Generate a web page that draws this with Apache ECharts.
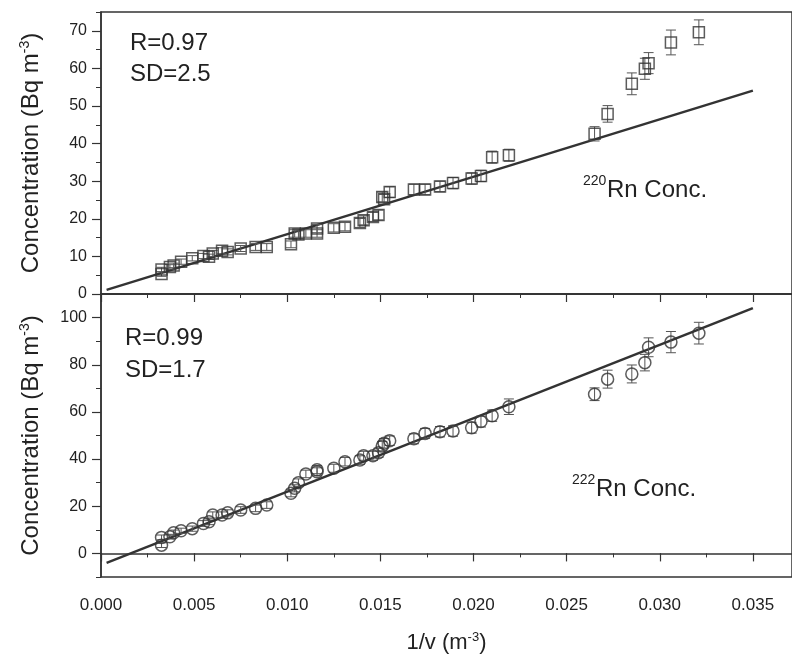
<!DOCTYPE html>
<html>
<head>
<meta charset="utf-8">
<script src="https://cdn.jsdelivr.net/npm/echarts@6/dist/echarts.min.js"></script>
<style>html,body{margin:0;padding:0;background:#fff}#c{width:792px;height:657px}</style>
</head>
<body>
<div id="c"></div>
<script>
// ---- data ----
const xValues = [0.00325,0.00325,0.0037,0.0039,0.0043,0.0049,0.0055,0.0058,0.0060,0.0065,0.0068,0.0075,0.0083,0.0089,
  0.0102,0.0104,0.0106,0.0110,0.0116,0.0116,0.0125,0.0131,0.0139,0.0141,0.0146,0.0149,0.0151,0.0152,0.0155,
  0.0168,0.0174,0.0182,0.0189,0.0199,0.0204,0.0210,0.0219,0.0265,0.0272,0.0285,0.0292,0.0294,0.0306,0.0321];
const rn220 = [5.3,6.5,7.2,7.6,8.6,9.5,10.1,9.9,10.8,11.5,11.2,12.1,12.5,12.5,
  13.2,16.1,15.8,16.1,16.1,17.4,17.6,17.9,18.9,19.6,20.5,21.0,25.8,25.2,27.1,
  27.8,27.8,28.6,29.5,30.7,31.4,36.4,36.9,42.6,47.9,55.9,59.9,61.4,66.9,69.6];
const rn220Err = [0.6,0.6,0.6,0.6,0.7,0.7,0.7,0.7,0.8,0.8,0.8,0.8,0.9,0.9,
  0.9,1.0,1.0,1.0,1.0,1.1,1.1,1.1,1.2,1.2,1.2,1.3,1.3,1.3,1.4,
  1.4,1.4,1.4,1.5,1.5,1.5,1.6,1.6,1.9,2.2,2.9,2.8,2.8,3.3,3.3];
const rn222 = [3.5,6.8,7.1,8.8,9.6,10.5,12.7,13.4,16.3,16.3,17.2,18.4,19.1,20.5,
  25.5,27.6,30.0,33.7,34.6,35.5,36.1,38.9,39.6,41.4,41.4,42.7,45.5,46.7,47.8,
  48.6,50.9,51.6,51.9,53.3,55.9,58.4,62.2,67.5,73.9,76.1,80.9,87.4,89.6,93.4];
const rn222Err = [1.0,1.0,1.0,1.1,1.1,1.1,1.2,1.2,1.3,1.3,1.3,1.4,1.4,1.4,
  1.5,1.5,1.6,1.6,1.7,1.7,1.7,1.8,1.8,1.9,1.9,1.9,2.0,2.0,2.0,
  2.1,2.1,2.2,2.2,2.3,2.3,2.4,3.3,2.7,3.8,3.8,3.5,4.0,4.5,4.6];
const fit220 = [[0.0003, 1.1], [0.035, 54.1]];
const fit222 = [[0.0003, -4.0], [0.035, 104.0]];
const xTicks = [0, 0.005, 0.010, 0.015, 0.020, 0.025, 0.030, 0.035];
const yTicksTop = [0, 10, 20, 30, 40, 50, 60, 70];
const yTicksBottom = [0, 20, 40, 60, 80, 100];

// ---- chart ----
const ink = '#222';
const X_MAX = 0.0371;
const axisLineStyle = {lineStyle: {color: '#333', width: 1.5}};
const pts = (ys) => xValues.map((x, i) => [x, ys[i]]);
const errs = (ys, es) => xValues.map((x, i) => [x, ys[i] - es[i], ys[i] + es[i]]);

function errorBar(params, api) {
  const x = api.value(0);
  const top = api.coord([x, api.value(2)]);
  const bot = api.coord([x, api.value(1)]);
  const w = 5;
  const st = {stroke: '#555', lineWidth: 1};
  return {type: 'group', children: [
    {type: 'line', shape: {x1: top[0], y1: top[1], x2: bot[0], y2: bot[1]}, style: st},
    {type: 'line', shape: {x1: top[0] - w, y1: top[1], x2: top[0] + w, y2: top[1]}, style: st},
    {type: 'line', shape: {x1: bot[0] - w, y1: bot[1], x2: bot[0] + w, y2: bot[1]}, style: st}
  ]};
}

const nameRich = {
  t: {fontSize: 24, fontFamily: 'Liberation Sans, Arial', color: ink},
  s: {fontSize: 14, fontFamily: 'Liberation Sans, Arial', color: ink, padding: [0, 0, 12, 0]}
};

function mainX(gridIndex, showLabels) {
  return {
    type: 'value', gridIndex, min: 0, max: X_MAX, position: 'bottom',
    axisLine: axisLineStyle, splitLine: {show: false},
    axisTick: {show: true, length: 8, customValues: xTicks, lineStyle: {color: '#333', width: 1.2}},
    axisLabel: showLabels ? {show: true, customValues: xTicks, formatter: v => v.toFixed(3), fontSize: 17,
      fontFamily: 'Liberation Sans Narrow, Liberation Sans, Arial', color: ink, margin: 20} : {show: false},
    name: showLabels ? '{t|1/v (m}{s|-3}{t|)}' : '',
    nameLocation: 'middle', nameGap: 54,
    nameTextStyle: {rich: {
      t: {fontSize: 22, fontFamily: 'Liberation Sans, Arial', color: ink},
      s: {fontSize: 13, fontFamily: 'Liberation Sans, Arial', color: ink, padding: [0, 0, 11, 0]}
    }}
  };
}
function minorX(gridIndex) {
  return {
    type: 'value', gridIndex, min: 0, max: X_MAX, interval: 0.0025, position: 'bottom',
    axisLine: {show: false}, splitLine: {show: false}, axisLabel: {show: false},
    axisTick: {show: true, length: 4, lineStyle: {color: '#333', width: 1}}
  };
}
function mainY(gridIndex, min, max, ticks) {
  return {
    type: 'value', gridIndex, min, max, position: 'left',
    axisLine: axisLineStyle, splitLine: {show: false},
    axisTick: {show: true, length: 9, customValues: ticks, lineStyle: {color: '#333', width: 1.2}},
    axisLabel: {show: true, customValues: ticks, fontSize: 16, fontFamily: 'Liberation Sans, Arial', color: ink, margin: 14},
    name: '{t|Concentration (Bq m}{s|-3}{t|)}',
    nameLocation: 'middle', nameRotate: 90, nameGap: 57,
    nameTextStyle: {rich: nameRich}
  };
}
function minorY(gridIndex, min, max, interval) {
  return {
    type: 'value', gridIndex, min, max, interval, position: 'left',
    axisLine: {show: false}, splitLine: {show: false}, axisLabel: {show: false},
    axisTick: {show: true, length: 5, lineStyle: {color: '#333', width: 1}}
  };
}

const chart = echarts.init(document.getElementById('c'), null, {renderer: 'canvas'});
chart.setOption({
  animation: false,
  backgroundColor: '#fff',
  grid: [
    {left: 101, top: 12, width: 693, height: 282, show: true, borderColor: '#333', borderWidth: 1.5},
    {left: 101, top: 294, width: 693, height: 283, show: true, borderColor: '#333', borderWidth: 1.5}
  ],
  xAxis: [mainX(0, false), minorX(0), mainX(1, true), minorX(1)],
  yAxis: [mainY(0, 0, 75, yTicksTop), minorY(0, 0, 75, 5), mainY(1, -10, 110, yTicksBottom), minorY(1, -10, 110, 10)],
  series: [
    {type: 'line', xAxisIndex: 0, yAxisIndex: 0, data: fit220, showSymbol: false, symbol: 'none',
      lineStyle: {color: '#333', width: 2.5}, z: 3},
    {type: 'custom', xAxisIndex: 0, yAxisIndex: 0, data: errs(rn220, rn220Err), renderItem: errorBar, z: 4},
    {type: 'scatter', xAxisIndex: 0, yAxisIndex: 0, data: pts(rn220), symbol: 'rect', symbolSize: 11,
      itemStyle: {color: 'rgba(0,0,0,0)', borderColor: '#333', borderWidth: 1.5}, z: 5},
    {type: 'line', xAxisIndex: 2, yAxisIndex: 2, data: fit222, showSymbol: false, symbol: 'none',
      lineStyle: {color: '#333', width: 2.5}, z: 3},
    {type: 'custom', xAxisIndex: 2, yAxisIndex: 2, data: errs(rn222, rn222Err), renderItem: errorBar, z: 4},
    {type: 'scatter', xAxisIndex: 2, yAxisIndex: 2, data: pts(rn222), symbol: 'circle', symbolSize: 12,
      itemStyle: {color: 'rgba(0,0,0,0)', borderColor: '#333', borderWidth: 1.5}, z: 5}
  ],
  graphic: [
    {type: 'text', left: 130, top: 31, style: {text: 'R=0.97', fontSize: 24, fontFamily: 'Liberation Sans, Arial', fill: ink}},
    {type: 'text', left: 130, top: 62, style: {text: 'SD=2.5', fontSize: 24, fontFamily: 'Liberation Sans, Arial', fill: ink}},
    {type: 'text', left: 583, top: 174, style: {text: '220', fontSize: 14, fontFamily: 'Liberation Sans, Arial', fill: ink}},
    {type: 'text', left: 607, top: 178, style: {text: 'Rn Conc.', fontSize: 24, fontFamily: 'Liberation Sans, Arial', fill: ink}},
    {type: 'text', left: 125, top: 326, style: {text: 'R=0.99', fontSize: 24, fontFamily: 'Liberation Sans, Arial', fill: ink}},
    {type: 'text', left: 125, top: 358, style: {text: 'SD=1.7', fontSize: 24, fontFamily: 'Liberation Sans, Arial', fill: ink}},
    {type: 'text', left: 572, top: 473, style: {text: '222', fontSize: 14, fontFamily: 'Liberation Sans, Arial', fill: ink}},
    {type: 'text', left: 596, top: 477, style: {text: 'Rn Conc.', fontSize: 24, fontFamily: 'Liberation Sans, Arial', fill: ink}}
  ]
});
</script>
</body>
</html>
